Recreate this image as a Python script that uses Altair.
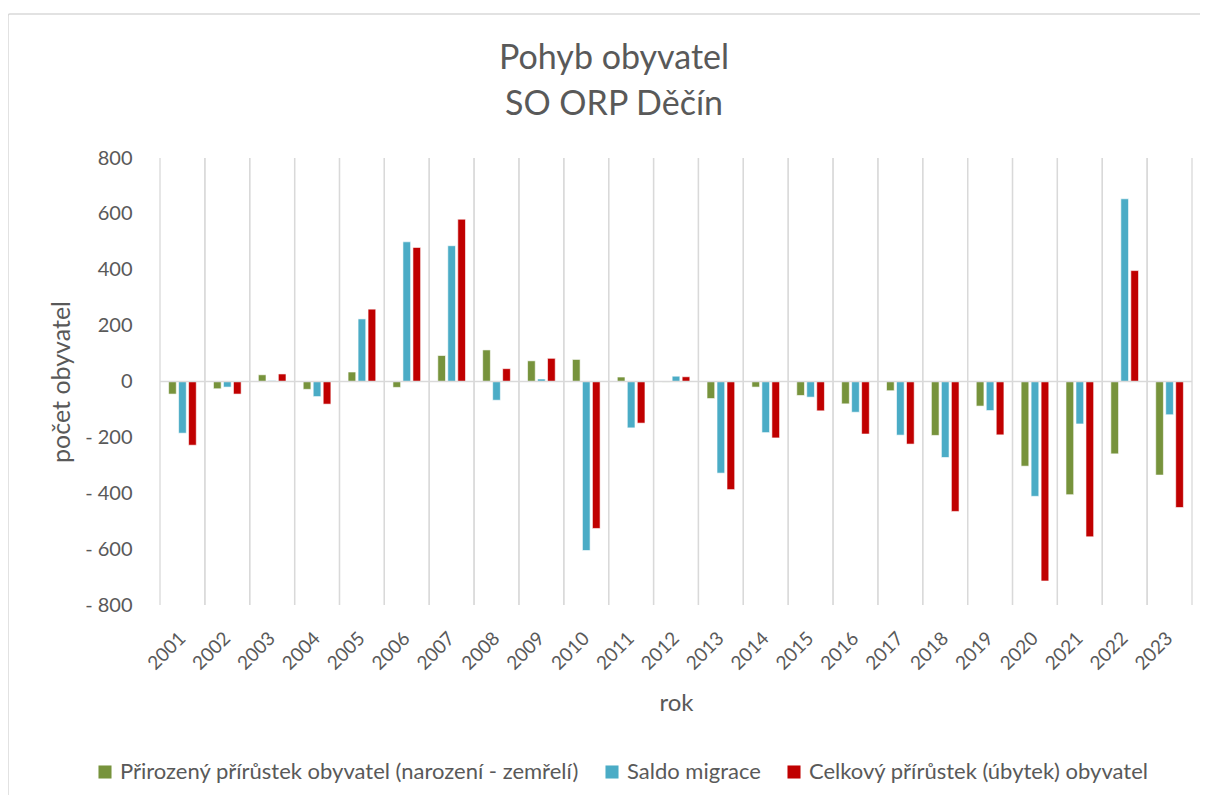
import altair as alt
import pandas as pd

years = [str(y) for y in range(2001, 2024)]
natural = [-45, -26, 24, -28, 34, -21, 93, 113, 74, 79, 16, -2, -61, -20, -50, -80, -33, -193, -88, -303, -405, -259, -335]
migration = [-185, -20, 3, -54, 224, 500, 486, -67, 9, -605, -166, 19, -328, -183, -56, -110, -192, -272, -104, -411, -152, 654, -119]
total = [-228, -45, 27, -81, 259, 480, 581, 46, 83, -526, -149, 17, -387, -202, -105, -188, -224, -465, -191, -714, -556, 397, -451]
series = [
    "Přirozený přírůstek obyvatel (narození - zemřelí)",
    "Saldo migrace",
    "Celkový přírůstek (úbytek) obyvatel",
]
colors = ["#77933C", "#4BACC6", "#C00000"]
y_ticks = [-800, -600, -400, -200, 0, 200, 400, 600, 800]

rows = []
for i, yr in enumerate(years):
    for s, vals in zip(series, [natural, migration, total]):
        rows.append({"rok": yr, "serie": s, "hodnota": vals[i]})
df = pd.DataFrame(rows)

W, H = 1032, 447
FONT = "Lato"
GREY = "#595959"
GRID = "#d9d9d9"

xscale = alt.Scale(domain=years, paddingInner=0, paddingOuter=0)
yscale = alt.Scale(domain=[-800, 800], nice=False)

xaxis = alt.Axis(
    title="rok",
    labelAngle=-45,
    labelAlign="right",
    labelBaseline="middle",
    ticks=False,
    domain=False,
    grid=False,
    labelFontSize=19,
    labelColor=GREY,
    labelFont=FONT,
    labelPadding=30,
    titleFontSize=24,
    titleColor=GREY,
    titleFont=FONT,
    titleFontWeight="normal",
    titlePadding=18,
)

grid_df = pd.DataFrame({"rok": years})
grid_left = alt.Chart(grid_df).mark_rule(color=GRID, strokeWidth=1.3).encode(
    x=alt.X("rok:O", bandPosition=0, scale=xscale, sort=years, axis=xaxis)
)
grid_right = alt.Chart(grid_df).mark_rule(color=GRID, strokeWidth=1.3).encode(
    x=alt.X("rok:O", bandPosition=1, scale=xscale, sort=years, axis=xaxis)
)

bars = alt.Chart(df).mark_bar(stroke="white", strokeWidth=0.6).encode(
    x=alt.X("rok:O", scale=xscale, sort=years, axis=xaxis),
    xOffset=alt.XOffset(
        "serie:N",
        sort=series,
        scale=alt.Scale(domain=series, paddingInner=0.23, paddingOuter=0.86),
    ),
    y=alt.Y(
        "hodnota:Q",
        scale=yscale,
        axis=alt.Axis(
            title="počet obyvatel",
            values=y_ticks,
            ticks=False,
            domain=False,
            grid=False,
            labelFontSize=20,
            labelColor=GREY,
            labelFont=FONT,
            labelPadding=28,
            labelExpr="datum.value < 0 ? '- ' + abs(datum.value) : datum.label",
            titleFontSize=25,
            titleColor=GREY,
            titleFont=FONT,
            titleFontWeight="normal",
            titlePadding=10,
        ),
    ),
    color=alt.Color(
        "serie:N",
        scale=alt.Scale(domain=series, range=colors),
        legend=alt.Legend(
            title=None,
            orient="none",
            legendX=-66,
            legendY=603,
            direction="horizontal",
            symbolType="square",
            symbolSize=170,
            symbolStrokeWidth=0,
            labelFontSize=22,
            labelFont=FONT,
            labelColor=GREY,
            labelLimit=1000,
            columnPadding=22,
        ),
    ),
)

zero = alt.Chart(pd.DataFrame({"v": [0]})).mark_rule(color=GRID, strokeWidth=1.5).encode(
    y=alt.Y("v:Q", scale=yscale)
)

frame = alt.Chart(pd.DataFrame({"v": [0]})).mark_rect(
    fill=None, stroke=GRID, strokeWidth=1.5, cornerRadius=2
).encode(
    x=alt.value(-152), x2=alt.value(W + 30), y=alt.value(-144), y2=alt.value(H + 220)
)

chart = alt.layer(frame, grid_left, grid_right, bars, zero).properties(
    width=W,
    height=H,
    title=alt.TitleParams(
        ["Pohyb obyvatel", "SO ORP Děčín"],
        fontSize=34,
        font=FONT,
        fontWeight="normal",
        color=GREY,
        lineHeight=46,
        offset=-109,
        frame="group",
        dx=-62,
        anchor="middle",
    ),
    padding={"left": 152, "top": 150, "right": 8, "bottom": 190},
    autosize=alt.AutoSizeParams(type="none"),
).configure_view(stroke=None)

chart.save("out.html", embed_options={"renderer": "svg", "actions": False})
